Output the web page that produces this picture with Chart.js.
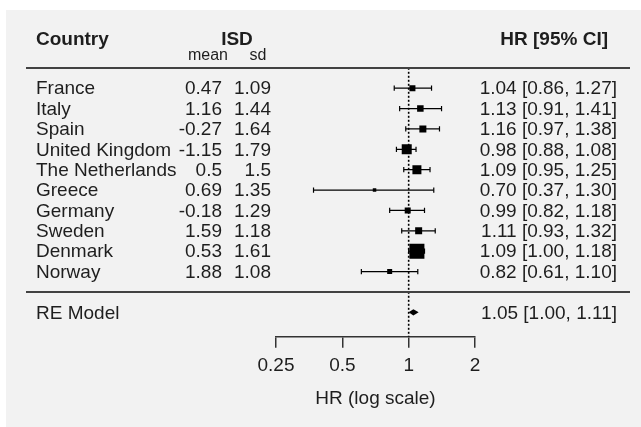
<!DOCTYPE html>
<html>
<head>
<meta charset="utf-8">
<script src="https://cdn.jsdelivr.net/npm/chart.js@4.4.1/dist/chart.umd.min.js"></script>
<style>
  html, body { margin: 0; padding: 0; background: #fff; }
  canvas { display: block; }
</style>
</head>
<body>
<canvas id="forest" width="641" height="427"></canvas>
<script>
// ---------------- data ----------------
const countries = ['France', 'Italy', 'Spain', 'United Kingdom', 'The Netherlands',
                   'Greece', 'Germany', 'Sweden', 'Denmark', 'Norway'];
const isdMean = [0.47, 1.16, -0.27, -1.15, 0.5, 0.69, -0.18, 1.59, 0.53, 1.88];
const isdSd   = [1.09, 1.44, 1.64, 1.79, 1.5, 1.35, 1.29, 1.18, 1.61, 1.08];
const hr      = [1.04, 1.13, 1.16, 0.98, 1.09, 0.70, 0.99, 1.11, 1.09, 0.82];
const ciLow   = [0.86, 0.91, 0.97, 0.88, 0.95, 0.37, 0.82, 0.93, 1.00, 0.61];
const ciHigh  = [1.27, 1.41, 1.38, 1.08, 1.25, 1.30, 1.18, 1.32, 1.18, 1.10];
const weights = [6, 7, 8, 14, 12, 1, 6, 8, 24, 4];   // relative study weights
const reLabel = 'RE Model';
const reEst = 1.05, reLow = 1.00, reHigh = 1.11;
const xTicks = [0.25, 0.5, 1, 2];

// ---------------- layout bits ----------------
const FONT = "'Liberation Sans', Arial, sans-serif";
const TXT = '#1e1e1e';
const LINE = '#424242';
const rowOf = i => i + 1;      // study rows 1..10
const SEP_ROW = 11, RE_ROW = 12, Y_MAX = 13.2;
const fmt = v => v.toFixed(2);

// error bar datasets, one per study
const ciSets = countries.map((c, i) => ({
  type: 'scatter',
  showLine: true,
  data: [{ x: ciLow[i], y: rowOf(i) }, { x: ciHigh[i], y: rowOf(i) }],
  borderColor: '#000',
  borderWidth: 1.2,
  pointStyle: 'line',
  pointRotation: 90,
  pointRadius: 2.6,
  pointBorderWidth: 1.2,
  pointBorderColor: '#000'
}));

// ---------------- plugin: panel, table text, lines, diamond ----------------
const tablePlugin = {
  id: 'table',
  beforeDraw(chart) {
    const ctx = chart.ctx;
    ctx.save();
    ctx.fillStyle = '#f2f2f2';
    ctx.fillRect(6, 10, chart.width - 6, chart.height - 10);
    ctx.restore();
  },
  afterDatasetsDraw(chart) {
    const { ctx, scales: { x, y } } = chart;
    // RE diamond
    const yc = y.getPixelForValue(RE_ROW);
    ctx.save();
    ctx.fillStyle = '#000';
    ctx.beginPath();
    ctx.moveTo(x.getPixelForValue(reLow), yc);
    ctx.lineTo(x.getPixelForValue(reEst), yc - 3.2);
    ctx.lineTo(x.getPixelForValue(reHigh), yc);
    ctx.lineTo(x.getPixelForValue(reEst), yc + 3.2);
    ctx.closePath();
    ctx.fill();
    ctx.restore();
  },
  afterDraw(chart) {
    const { ctx, scales: { y } } = chart;
    const ty = v => y.getPixelForValue(v) + 1;   // text sits a touch low
    ctx.save();

    // horizontal rules
    ctx.strokeStyle = LINE;
    ctx.lineWidth = 2;
    [0, SEP_ROW].forEach(r => {
      const py = Math.round(y.getPixelForValue(r));
      ctx.beginPath();
      ctx.moveTo(26, py);
      ctx.lineTo(630, py);
      ctx.stroke();
    });

    ctx.fillStyle = TXT;
    ctx.textBaseline = 'middle';

    // headers
    const hy = ty(-1.42);
    ctx.font = 'bold 19px ' + FONT;
    ctx.textAlign = 'left';
    ctx.fillText('Country', 36, hy);
    ctx.textAlign = 'center';
    ctx.fillText('ISD', 237, hy);
    ctx.textAlign = 'right';
    ctx.fillText('HR [95% CI]', 608, hy);

    const sy = ty(-0.66);
    ctx.font = '16px ' + FONT;
    ctx.textAlign = 'center';
    ctx.fillText('mean', 208, sy);
    ctx.fillText('sd', 258, sy);

    // rows
    ctx.font = '19px ' + FONT;
    countries.forEach((c, i) => {
      const py = ty(rowOf(i));
      ctx.textAlign = 'left';
      ctx.fillText(c, 36, py);
      ctx.textAlign = 'right';
      ctx.fillText(String(isdMean[i]), 222, py);
      ctx.fillText(String(isdSd[i]), 271, py);
      ctx.fillText(fmt(hr[i]) + ' [' + fmt(ciLow[i]) + ', ' + fmt(ciHigh[i]) + ']', 617, py);
    });

    const ry = ty(RE_ROW);
    ctx.textAlign = 'left';
    ctx.fillText(reLabel, 36, ry);
    ctx.textAlign = 'right';
    ctx.fillText(fmt(reEst) + ' [' + fmt(reLow) + ', ' + fmt(reHigh) + ']', 617, ry);

    ctx.restore();
  }
};

// ---------------- chart ----------------
new Chart(document.getElementById('forest'), {
  type: 'scatter',
  data: {
    datasets: [
      {
        data: hr.map((v, i) => ({ x: v, y: rowOf(i) })),
        pointStyle: 'rect',
        pointRadius: weights.map(w => (3 + 0.5 * w) / Math.SQRT2),
        backgroundColor: '#000',
        borderColor: '#000',
        borderWidth: 0
      },
      ...ciSets,
      {
        // reference line at HR = 1
        showLine: true,
        data: [{ x: 1, y: 0 }, { x: 1, y: Y_MAX }],
        borderColor: '#000',
        borderWidth: 1.6,
        borderDash: [2, 2],
        pointRadius: 0
      }
    ]
  },
  options: {
    responsive: false,
    animation: false,
    events: [],
    layout: { padding: { left: 276, right: 166, top: 67.8, bottom: 12.6 } },
    plugins: { legend: { display: false }, tooltip: { enabled: false } },
    scales: {
      x: {
        type: 'logarithmic',
        min: 0.25,
        max: 2,
        afterBuildTicks: s => { s.ticks = xTicks.map(v => ({ value: v })); },
        ticks: {
          callback: v => String(v),
          autoSkip: false,
          maxRotation: 0,
          padding: 7,
          color: TXT,
          font: { family: FONT, size: 19 }
        },
        grid: { drawOnChartArea: false, drawTicks: true, tickLength: 11, color: '#333', lineWidth: 1.5 },
        border: { display: true, color: '#333', width: 1.5 },
        title: {
          display: true,
          text: 'HR (log scale)',
          color: TXT,
          font: { family: FONT, size: 19 },
          padding: { top: 3, bottom: 4 }
        }
      },
      y: { display: false, min: 0, max: Y_MAX, reverse: true }
    }
  },
  plugins: [tablePlugin]
});
</script>
</body>
</html>
